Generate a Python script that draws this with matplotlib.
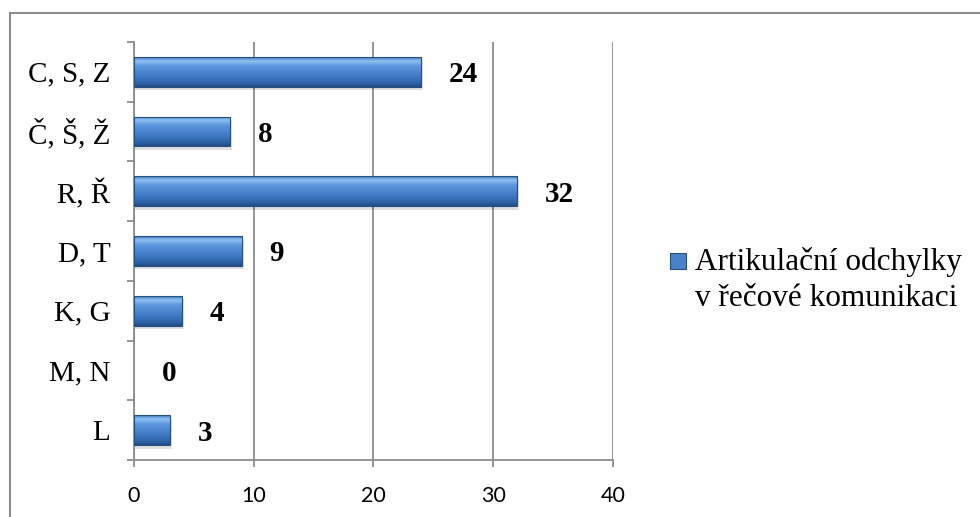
import numpy as np
import matplotlib
matplotlib.use('Agg')
import matplotlib.pyplot as plt
from matplotlib.colors import LinearSegmentedColormap
from matplotlib.lines import Line2D
from matplotlib.patches import Rectangle


categories = ['C, S, Z', 'Č, Š, Ž', 'R, Ř', 'D, T', 'K, G', 'M, N', 'L']
values = [24, 8, 32, 9, 4, 0, 3]
series_name = 'Artikulační odchylky\nv řečové komunikaci'
xticks = [0, 10, 20, 30, 40]

serif = 'Liberation Serif'
sans = 'Lato'
grey = '#8c8c8c'

fig = plt.figure(figsize=(9.8, 5.17), dpi=100)
ax = fig.add_axes([0.1367, 0.1103, 0.4888, 0.8085])

y = np.arange(len(categories))
bars = ax.barh(y, values, height=0.5, color='#4a82c8', edgecolor='#27507f',
               linewidth=0.8, zorder=3)

# bevel-like shading on each bar
shade = LinearSegmentedColormap.from_list('shade', [
    (0.0, '#3f78c0'), (0.12, '#8fc0f2'), (0.3, '#5c97de'),
    (0.65, '#4079c4'), (0.88, '#2f63a6'), (1.0, '#234d86')])
grad = np.linspace(0, 1, 64).reshape(-1, 1)
for b in bars:
    x0, y0 = b.get_x(), b.get_y()
    w, h = b.get_width(), b.get_height()
    if w <= 0:
        b.set_visible(False)
        continue
    # soft shadow under the bar
    ax.add_patch(Rectangle((x0, y0 + 0.06), w + 0.15, h, facecolor='#000000',
                           alpha=0.12, linewidth=0, zorder=2))
    im = ax.imshow(grad, cmap=shade, aspect='auto', zorder=3.5,
                   extent=[x0, x0 + w, y0 + h, y0])
    im.set_clip_path(b)
    b.set_facecolor('none')
    b.set_zorder(4)

for yi, v in zip(y, values):
    ax.annotate(str(v), xy=(v, yi), xytext=(20, 0), textcoords='offset points',
                ha='left', va='center_baseline', fontsize=21,
                fontweight='bold', family=serif, zorder=5)

ax.set_xlim(0, 40)
ax.set_ylim(len(categories) - 0.5, -0.5)
ax.set_xticks(xticks)
ax.set_xticklabels([str(t) for t in xticks], family=sans, fontsize=15.5)
ax.set_yticks(y)
ax.set_yticklabels(categories, family=serif, fontsize=21)
ax.set_yticks(np.arange(len(categories) + 1) - 0.5, minor=True)

ax.tick_params(axis='y', which='major', length=0, pad=17)
ax.tick_params(axis='y', which='minor', length=5, width=1.3, color=grey)
ax.tick_params(axis='x', length=5, width=1.3, color=grey, pad=14)

ax.grid(axis='x', color=grey, linewidth=1.3, zorder=0)
ax.set_axisbelow(True)
for side in ['top', 'right']:
    ax.spines[side].set_visible(False)
for side in ['left', 'bottom']:
    ax.spines[side].set_color(grey)
    ax.spines[side].set_linewidth(1.3)

# legend: one square key and a two-line label
W, H = 980, 517
fig.patches.append(Rectangle((670 / W, 1 - 269 / H), 16 / W, 16 / H,
                             transform=fig.transFigure, facecolor='#4a82c8',
                             edgecolor='#27507f', linewidth=0.8))
fig.text(695 / W, 1 - 306 / H, series_name, family=serif, fontsize=22.5,
         ha='left', va='baseline', linespacing=1.32)

# outer chart frame
fig.add_artist(Line2D([10 / W, 1], [1 - 13 / H, 1 - 13 / H],
                      transform=fig.transFigure, color=grey, linewidth=1.5))
fig.add_artist(Line2D([10 / W, 10 / W], [0, 1 - 13 / H],
                      transform=fig.transFigure, color=grey, linewidth=1.5))

fig.savefig('out.png', dpi=100)
